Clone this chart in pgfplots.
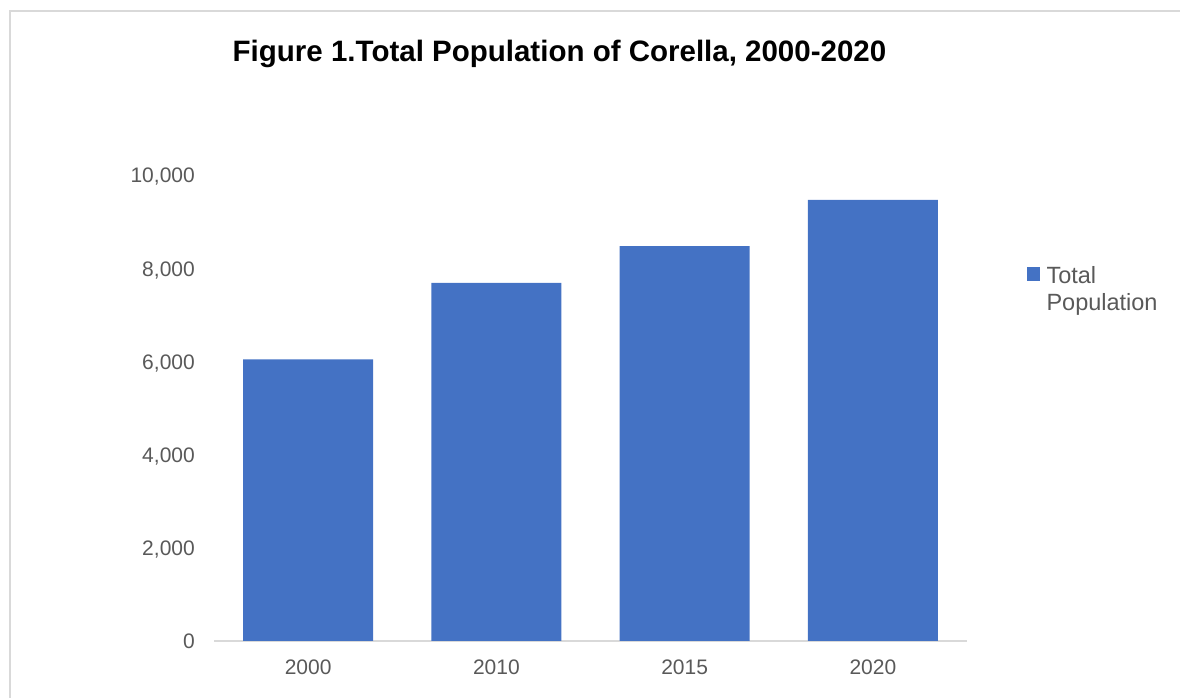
\documentclass[border=0pt]{standalone}
\usepackage{fontspec}
\setmainfont{Liberation Sans}
\usepackage{pgfplots}
\pgfplotsset{compat=1.18}
\definecolor{barblue}{HTML}{4472C4}
\definecolor{txtgray}{HTML}{595959}
\definecolor{linegray}{HTML}{D9D9D9}
\begin{document}
\begin{tikzpicture}
\useasboundingbox (0pt,0pt) rectangle (1180pt,698pt);
\draw[linegray, line width=1.4pt] (10pt,0pt) -- (10pt,687pt) -- (1180pt,687pt);
\begin{axis}[
    at={(214pt,57pt)}, anchor=south west,
    scale only axis,
    width=753pt, height=466pt,
    xmin=-0.5, xmax=3.5,
    ymin=0, ymax=10000,
    enlarge x limits=false,
    axis x line*=bottom, axis y line*=left,
    x axis line style={linegray, line width=1.3pt},
    y axis line style={draw=none},
    major tick length=0pt,
    xtick={0,1,2,3},
    xticklabels={2000,2010,2015,2020},
    ytick={0,2000,4000,6000,8000,10000},
    scaled y ticks=false,
    /pgf/number format/1000 sep={,},
    /pgf/number format/assume math mode=true,
    xticklabel style={font=\fontsize{21}{25}\selectfont, text=txtgray, inner sep=0pt, anchor=north, yshift=-19pt},
    yticklabel style={font=\fontsize{21}{25}\selectfont, text=txtgray, inner sep=0pt, anchor=base east, xshift=-19pt, yshift=-8pt},
    title={Figure 1.Total Population of Corella, 2000-2020},
    title style={font=\fontsize{29.5}{34}\selectfont\bfseries, text=black, inner sep=0pt,
        at={(axis description cs:0.4588,1.2296)}, anchor=base},
    legend style={draw=none, fill=none, inner sep=0pt, outer sep=0pt,
        at={(axis description cs:1.0797,0.8047)}, anchor=north west,
        font=\fontsize{23.5}{27}\selectfont, text=txtgray,
        nodes={inner sep=0pt, align=left}, column sep=7pt},
    legend cell align=left,
]
\addplot[ybar, bar width=130pt, fill=barblue, draw=none,
    legend image code/.code={\fill[barblue] (0pt,8pt) rectangle (12.5pt,21.5pt);}]
    coordinates {(0,6045) (1,7685) (2,8475) (3,9465)};
\addlegendentry{Total\\Population}
\end{axis}
\end{tikzpicture}
\end{document}
